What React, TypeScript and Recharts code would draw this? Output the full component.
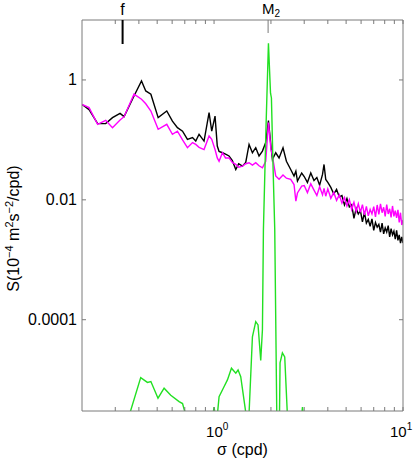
import { LineChart, Line, XAxis, YAxis } from "recharts";

// frequency grid shared by the total and residual spectra (cpd)
const sigma = [
  0.2, 0.218, 0.242, 0.267, 0.29, 0.318, 0.334, 0.377, 0.413, 0.435, 0.463, 0.506,
  0.562, 0.602, 0.64, 0.681, 0.723, 0.769, 0.8, 0.833, 0.885, 0.941, 0.972, 1.012,
  1.04, 1.063, 1.107, 1.15, 1.2, 1.25, 1.303, 1.35, 1.413, 1.471, 1.532, 1.596,
  1.662, 1.73, 1.803, 1.877, 1.94, 2.0, 2.036, 2.12, 2.208, 2.317, 2.415, 2.545,
  2.65, 2.71, 2.763, 2.91,
  3.0, 3.12, 3.25, 3.38, 3.5, 3.62, 3.75, 3.82, 3.9, 4.0,
  4.15, 4.3, 4.45, 4.6, 4.75, 4.9, 5.05, 5.2, 5.35, 5.5, 5.65, 5.8, 5.95, 6.1,
  6.25, 6.4, 6.55, 6.7, 6.85, 7.0, 7.15, 7.3, 7.45, 7.6, 7.75, 7.9, 8.05, 8.2,
  8.35, 8.5, 8.65, 8.8, 8.95, 9.1, 9.25, 9.4, 9.55, 9.7, 9.85, 10.0,
];

// total spectrum (black)
const sTotal = [
  0.39, 0.32, 0.187, 0.187, 0.235, 0.277, 0.244, 0.54, 0.96, 0.655, 0.577, 0.235,
  0.303, 0.206, 0.16, 0.14, 0.102, 0.109, 0.0955, 0.124, 0.0955, 0.285, 0.14, 0.25,
  0.079, 0.064, 0.061, 0.058, 0.054, 0.045, 0.032, 0.04, 0.0365, 0.042, 0.084, 0.061,
  0.074, 0.054, 0.065, 0.09, 0.21, 0.08, 0.047, 0.061, 0.05, 0.074, 0.044, 0.032,
  0.025, 0.03, 0.0205, 0.028,
  0.0245, 0.0195, 0.028, 0.021, 0.0236, 0.0175, 0.0265, 0.0389, 0.0219, 0.0195,
  0.0161, 0.0125, 0.0149, 0.0112, 0.0118, 0.0082, 0.0105, 0.0076, 0.0083, 0.0049,
  0.0072, 0.0058, 0.0066, 0.0043, 0.0062, 0.0041, 0.0047, 0.0036, 0.0048, 0.0031,
  0.0042, 0.0035, 0.0039, 0.0029, 0.0041, 0.0027, 0.0034, 0.0029, 0.0037, 0.0024,
  0.0033, 0.0026, 0.003, 0.0022, 0.0031, 0.0021, 0.0026, 0.0019, 0.0024, 0.0019,
];

// residual spectrum (magenta)
const sResidual = [
  0.39, 0.345, 0.182, 0.212, 0.16, 0.214, 0.244, 0.58, 0.476, 0.4, 0.303, 0.15,
  0.182, 0.124, 0.14, 0.1, 0.074, 0.09, 0.084, 0.075, 0.069, 0.116, 0.102, 0.069,
  0.05, 0.044, 0.061, 0.05, 0.05, 0.042, 0.039, 0.035, 0.0365, 0.04, 0.0416, 0.038,
  0.0416, 0.037, 0.0343, 0.044, 0.194, 0.07, 0.054, 0.025, 0.022, 0.026, 0.023, 0.022,
  0.018, 0.0095, 0.013, 0.017,
  0.0173, 0.0132, 0.0185, 0.0145, 0.0118, 0.0165, 0.0121, 0.0155, 0.0115, 0.0152,
  0.0106, 0.0133, 0.0098, 0.0121, 0.0088, 0.0109, 0.0079, 0.0101, 0.0069, 0.0091,
  0.0064, 0.0086, 0.0062, 0.0083, 0.0056, 0.0078, 0.0054, 0.0069, 0.0058, 0.0077,
  0.0052, 0.0082, 0.0057, 0.0086, 0.0061, 0.0075, 0.0053, 0.0083, 0.0058, 0.0071,
  0.0051, 0.0079, 0.0053, 0.0066, 0.005, 0.0068, 0.0042, 0.0061, 0.0038, 0.0046,
];

// tidal fit spectrum (green)
const tideSigma = [
  0.2, 0.355, 0.409, 0.444, 0.463, 0.505, 0.544, 0.59, 0.653, 0.681, 0.71,
  0.985, 1.0, 1.015, 1.04, 1.063, 1.129, 1.177, 1.236, 1.303, 1.34, 1.384, 1.48,
  1.53, 1.596, 1.662, 1.709, 1.766, 1.803, 1.825, 1.882, 1.94, 1.99, 2.012, 2.05,
  2.095, 2.148, 2.22, 2.235, 2.3, 2.366, 2.445, 2.91, 2.937, 2.965, 10,
];
const tideS = [
  2.5e-6, 2.5e-6, 1.08e-5, 9.0e-6, 9.3e-6, 4.9e-6, 7.2e-6, 5.5e-6, 4.3e-6, 4.0e-6, 2.5e-6,
  2.5e-6, 3.5e-6, 2.5e-6, 2.5e-6, 5.2e-6, 7.6e-6, 9.9e-6, 1.55e-5, 1.28e-5, 1.45e-5, 1.12e-5, 2.5e-6,
  2.5e-6, 5.2e-5, 9.3e-5, 8.2e-5, 2.1e-5, 6.8e-5, 3.2e-3, 0.15, 4.1, 0.6, 0.5, 0.04,
  3.2e-3, 2.5e-6, 2.5e-6, 1.9e-5, 2.8e-5, 2.4e-5, 2.5e-6, 2.5e-6, 3.5e-6, 2.5e-6, 2.5e-6,
];

const xTicks = [0.3, 0.4, 0.5, 0.6, 0.7, 0.8, 0.9, 1, 2, 3, 4, 5, 6, 7, 8, 9, 10];
const yTicks = [1e-4, 1e-2, 1];
const yTickLabels = ["0.0001", "0.01", "1"];
const markerF = 0.328;
const markerM2 = 1.932;
const topTicks = [...xTicks, markerF, markerM2].sort((a, b) => a - b);

const totalData = sigma.map((f, i) => ({ f, s: sTotal[i] }));
const residualData = sigma.map((f, i) => ({ f, s: sResidual[i] }));
const tideData = tideSigma.map((f, i) => ({ f, s: tideS[i] }));

const FONT = "'Liberation Sans', Arial, Helvetica, sans-serif";
const AXIS = "#7a7a7a";

const BottomTick = (props: any) => {
  const { x, y, payload } = props;
  const v = payload.value;
  const exp = v === 1 ? "0" : v === 10 ? "1" : null;
  return (
    <g>
      <line x1={x} y1={y} x2={x} y2={y - 4} stroke={AXIS} strokeWidth={1} />
      {exp && (
        <text x={v === 10 ? x - 13 : x - 8} y={y + 26} fontSize={15} fontFamily={FONT} fill="#000">
          <tspan>10</tspan>
          <tspan dy={-7} fontSize={10}>{exp}</tspan>
        </text>
      )}
    </g>
  );
};

const TopTick = (props: any) => {
  const { x, y, payload } = props;
  const v = payload.value;
  if (v === markerF) {
    return (
      <g>
        <line x1={x} y1={y} x2={x} y2={y + 24} stroke="#000" strokeWidth={2} />
        <text x={x} y={y - 5} textAnchor="middle" fontSize={16} fontFamily={FONT} fill="#000">
          f
        </text>
      </g>
    );
  }
  if (v === markerM2) {
    return (
      <g>
        <line x1={x} y1={y} x2={x} y2={y + 13} stroke={AXIS} strokeWidth={1} />
        <text x={x - 6} y={y - 6.5} fontSize={15} fontFamily={FONT} fill="#000">
          <tspan>M</tspan>
          <tspan dy={3.5} fontSize={10}>2</tspan>
        </text>
      </g>
    );
  }
  return <line x1={x} y1={y} x2={x} y2={y + 4} stroke={AXIS} strokeWidth={1} />;
};

const LeftTick = (props: any) => {
  const { x, y, index } = props;
  return (
    <g>
      <line x1={x} y1={y} x2={x + 4} y2={y} stroke={AXIS} strokeWidth={1} />
      <text x={x - 5} y={y} dy={5.5} textAnchor="end" fontSize={16} fontFamily={FONT} fill="#000">
        {yTickLabels[index]}
      </text>
    </g>
  );
};

const RightTick = (props: any) => {
  const { x, y } = props;
  return <line x1={x} y1={y} x2={x - 4} y2={y} stroke={AXIS} strokeWidth={1} />;
};

const YLabel = (props: any) => {
  const { viewBox } = props;
  const cx = viewBox.x + 19;
  const cy = viewBox.y + viewBox.height / 2 + 13;
  return (
    <text
      x={cx}
      y={cy}
      transform={`rotate(-90 ${cx} ${cy})`}
      textAnchor="middle"
      fontSize={16}
      fontFamily={FONT}
      fill="#000"
    >
      <tspan>S(10</tspan>
      <tspan dy={-6} fontSize={11}>−4</tspan>
      <tspan dy={6}> m</tspan>
      <tspan dy={-6} fontSize={11}>2</tspan>
      <tspan dy={6}>s</tspan>
      <tspan dy={-6} fontSize={11}>−2</tspan>
      <tspan dy={6}>/cpd)</tspan>
    </text>
  );
};

const XLabel = (props: any) => {
  const { viewBox } = props;
  return (
    <text
      x={viewBox.x + viewBox.width / 2}
      y={viewBox.y + 44}
      textAnchor="middle"
      fontSize={16}
      fontFamily={FONT}
      fill="#000"
    >
      σ (cpd)
    </text>
  );
};

export default function App() {
  return (
    <div style={{ position: "absolute", left: 0, top: 0, width: 413, height: 461, background: "#fff" }}>
      <LineChart width={413} height={461} margin={{ top: 19, right: 9, bottom: 0, left: 0 }}>
        <XAxis
          xAxisId={0}
          dataKey="f"
          type="number"
          scale="log"
          domain={[0.2, 10]}
          allowDataOverflow
          ticks={xTicks}
          interval={0}
          height={50}
          tickSize={0}
          tickMargin={0}
          stroke={AXIS}
          tick={<BottomTick />}
          label={<XLabel />}
        />
        <XAxis
          xAxisId="top"
          orientation="top"
          dataKey="f"
          type="number"
          scale="log"
          domain={[0.2, 10]}
          allowDataOverflow
          ticks={topTicks}
          interval={0}
          height={1}
          tickSize={0}
          tickMargin={0}
          stroke={AXIS}
          tick={<TopTick />}
        />
        <YAxis
          yAxisId={0}
          type="number"
          scale="log"
          domain={[3e-6, 10]}
          allowDataOverflow
          ticks={yTicks}
          interval={0}
          width={82}
          tickSize={0}
          tickMargin={0}
          stroke={AXIS}
          tick={<LeftTick />}
          label={<YLabel />}
        />
        <YAxis
          yAxisId="right"
          orientation="right"
          type="number"
          scale="log"
          domain={[3e-6, 10]}
          allowDataOverflow
          ticks={yTicks}
          interval={0}
          width={1}
          tickSize={0}
          tickMargin={0}
          stroke={AXIS}
          tick={<RightTick />}
        />
        {/* invisible series that keeps the top and right frame axes alive */}
        <Line
          xAxisId="top"
          yAxisId="right"
          data={residualData}
          dataKey="s"
          stroke="none"
          strokeOpacity={0}
          dot={false}
          activeDot={false}
          isAnimationActive={false}
        />
        <Line
          data={totalData}
          dataKey="s"
          type="linear"
          stroke="#000000"
          strokeWidth={1.4}
          dot={false}
          isAnimationActive={false}
        />
        <Line
          data={residualData}
          dataKey="s"
          type="linear"
          stroke="#ff00ff"
          strokeWidth={1.4}
          dot={false}
          isAnimationActive={false}
        />
        <Line
          data={tideData}
          dataKey="s"
          type="linear"
          stroke="#22e022"
          strokeWidth={1.4}
          dot={false}
          isAnimationActive={false}
        />
      </LineChart>
    </div>
  );
}
